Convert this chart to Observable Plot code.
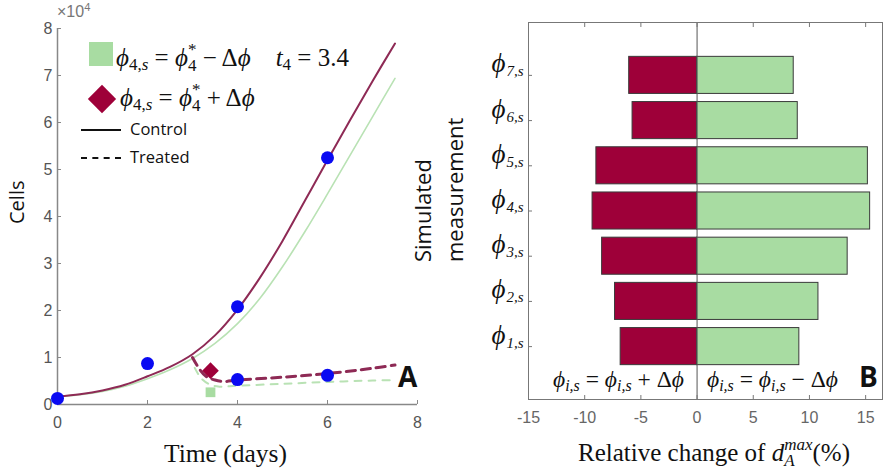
<!DOCTYPE html>
<html><head><meta charset="utf-8">
<script src="https://cdn.jsdelivr.net/npm/d3@7"></script>
<script src="https://cdn.jsdelivr.net/npm/@observablehq/plot@0.6"></script>
<style>
body{margin:0;background:#fff;}
#wrap{position:relative;width:883px;height:471px;overflow:hidden;background:#fff;}
.abs{position:absolute;white-space:nowrap;line-height:1;}
.math{font-family:"Liberation Serif",serif;font-size:25px;color:#111;}
.math i{font-style:italic;}
.sb{font-size:68%;position:relative;top:0.28em;}
.stk{display:inline-flex;flex-direction:column;font-size:68%;line-height:0.95;vertical-align:0.62em;}
.sans{font-family:"Open Sans",sans-serif;color:#111;}
.rot{transform:rotate(-90deg);transform-origin:0 0;}
svg{overflow:visible;}
</style></head><body><div id="wrap"></div>
<script>
// ---------- Panel A data (cells in units of 10^4) ----------
const timeGrid      = [0,0.5,1,1.5,2,2.5,3,3.5,4,4.5,5,5.5,6,6.5,7,7.5];
const controlPlus   = [0.17,0.22,0.30,0.42,0.60,0.80,1.07,1.47,2.02,2.70,3.48,4.34,5.20,6.05,6.88,7.68];
const controlMinus  = [0.17,0.21,0.28,0.39,0.55,0.74,0.98,1.30,1.72,2.26,2.93,3.68,4.48,5.30,6.12,6.94];
const treatedPlusT  = [3.0,3.15,3.3,3.5,3.7,4,5,6,7,7.5];
const treatedPlus   = [1.0,0.76,0.60,0.52,0.49,0.52,0.58,0.66,0.77,0.84];
const treatedMinusT = [3.05,3.2,3.4,3.6,4,5,6,7,7.5];
const treatedMinus  = [0.78,0.55,0.42,0.38,0.40,0.44,0.48,0.51,0.52];
const obsTime       = [0,2,4,6,4,6];
const obsCells      = [0.13,0.87,2.08,5.25,0.53,0.62];
const t4 = 3.4;
const markerPlus = 0.72, markerMinus = 0.26;
const xTicksA = [0,2,4,6,8];
const yTicksA = [0,1,2,3,4,5,6,7,8];

// ---------- Panel B data ----------
const measIndex   = [1,2,3,4,5,6,7];
const measLabels  = ["1,s","2,s","3,s","4,s","5,s","6,s","7,s"];
const plusChange  = [-6.8,-7.3,-8.45,-9.3,-8.96,-5.74,-6.04];
const minusChange = [9.1,10.8,13.4,15.4,15.2,8.96,8.6];
const xTicksB = [-15,-10,-5,0,5,10,15];

const RED = "#9e0039", GREEN = "#a8dca2";
const LRED = "#8e2a55", LGREEN = "#b9e2b4";

const line = (xs, ys) => xs.map((x,i)=>({x, y: ys[i]}));

const plotA = Plot.plot({
  width: 420, height: 471,
  marginLeft: 57, marginRight: 3, marginTop: 28, marginBottom: 67,
  x: {domain: [0,8]}, y: {domain: [0,8]},
  style: {fontFamily: "Liberation Sans, sans-serif", fontSize: "16px", background: "transparent"},
  marks: [
    Plot.ruleY([0], {stroke: "#888", strokeWidth: 1.5}),
    Plot.ruleX([0], {stroke: "#888", strokeWidth: 1.5}),
    Plot.axisX({ticks: xTicksA, tickSize: 0, tickPadding: 12, label: null, fill: "#555", fontSize: 16}),
    Plot.axisX({ticks: xTicksA, tickSize: -4, tickFormat: () => "", label: null, stroke: "#888"}),
    Plot.axisY({ticks: yTicksA, tickSize: 0, tickPadding: 5, label: null, fill: "#555", fontSize: 16}),
    Plot.axisY({ticks: yTicksA, tickSize: -4, tickFormat: () => "", label: null, stroke: "#888"}),
    Plot.line(line(timeGrid, controlMinus), {x:"x", y:"y", stroke: LGREEN, strokeWidth: 1.6, curve: "catmull-rom"}),
    Plot.line(line(timeGrid, controlPlus), {x:"x", y:"y", stroke: LRED, strokeWidth: 2, curve: "catmull-rom"}),
    Plot.line(line(treatedMinusT, treatedMinus), {x:"x", y:"y", stroke: LGREEN, strokeWidth: 2, strokeDasharray: "7,7", curve: "catmull-rom"}),
    Plot.line(line(treatedPlusT, treatedPlus), {x:"x", y:"y", stroke: LRED, strokeWidth: 3, strokeDasharray: "9,6", curve: "catmull-rom"}),
    Plot.dot([{x: t4, y: markerMinus}], {x:"x", y:"y", symbol: "square", r: 5.5, fill: GREEN}),
    Plot.dot([{x: t4, y: markerPlus}], {x:"x", y:"y", symbol: "diamond2", r: 7.5, fill: RED}),
    Plot.dot(line(obsTime, obsCells), {x:"x", y:"y", r: 6.5, fill: "#0a0af2"})
  ]
});

const barsPlus  = measIndex.map((m,i)=>({m, v: plusChange[i]}));
const barsMinus = measIndex.map((m,i)=>({m, v: minusChange[i]}));
const plotB = Plot.plot({
  width: 463, height: 471,
  marginLeft: 108, marginRight: 1, marginTop: 22, marginBottom: 72,
  x: {domain: [-15, 16.5]}, y: {domain: [-0.17, 8.17]},
  style: {fontFamily: "Liberation Sans, sans-serif", fontSize: "16px", background: "transparent"},
  marks: [
    Plot.rect(barsPlus,  {x1: 0, x2: "v", y1: d => d.m - 0.41, y2: d => d.m + 0.41, fill: RED, stroke: "#3a3a3a", strokeWidth: 1}),
    Plot.rect(barsMinus, {x1: 0, x2: "v", y1: d => d.m - 0.41, y2: d => d.m + 0.41, fill: GREEN, stroke: "#3a3a3a", strokeWidth: 1}),
    Plot.ruleX([0], {stroke: "#555", strokeWidth: 1}),
    Plot.frame({stroke: "#777", strokeWidth: 1}),
    Plot.axisX({ticks: xTicksB, tickSize: 0, tickPadding: 12, tickFormat: d => String(d), label: null, fill: "#666", fontSize: 16}),
    Plot.axisX({ticks: xTicksB, tickSize: -4, tickFormat: () => "", label: null, stroke: "#777"}),
    Plot.axisX({anchor: "top", ticks: xTicksB, tickSize: -4, tickFormat: () => "", label: null, stroke: "#777"}),
    Plot.axisY({ticks: measIndex, tickSize: -4, tickFormat: () => "", label: null, stroke: "#777"}),
    Plot.text(measIndex, {x: -15, y: d => d, text: () => "\u03D5", dx: -23, dy: -3, textAnchor: "end", lineAnchor: "bottom",
      fontFamily: "Liberation Serif, serif", fontStyle: "italic", fontSize: 27, fill: "#111"}),
    Plot.text(measIndex, {x: -15, y: d => d, text: (d,i) => measLabels[i], dx: -22, dy: 1, textAnchor: "start", lineAnchor: "bottom",
      fontFamily: "Liberation Serif, serif", fontStyle: "italic", fontSize: 15, fill: "#111"})
  ]
});

const wrap = document.getElementById("wrap");
plotA.style.position = "absolute"; plotA.style.left = "0px"; plotA.style.top = "0px";
plotB.style.position = "absolute"; plotB.style.left = "420px"; plotB.style.top = "0px";
wrap.appendChild(plotA); wrap.appendChild(plotB);

function add(html, cls, left, top, extra) {
  const d = document.createElement("div");
  d.className = "abs " + cls;
  d.style.left = left + "px"; d.style.top = top + "px";
  if (extra) Object.assign(d.style, extra);
  d.innerHTML = html;
  wrap.appendChild(d);
  return d;
}
const phi = "<i>\u03D5</i>";
const sub = s => `<span class="sb">${s}</span>`;
const stk = (sup, sb) => `<span class="stk"><span>${sup}</span><span>${sb}</span></span>`;
// multiplier
add('\u00D710<span style="font-size:70%;position:relative;top:-0.5em">4</span>', "", 57, 4,
  {fontFamily: "Liberation Sans, sans-serif", fontSize: "16px", color: "#777"});
// legend panel A
add("", "", 89, 42, {width: "24px", height: "24px", background: GREEN});
add(`${phi}${sub("4,<i>s</i>")} = ${phi}${stk("*", "4")} \u2212 \u0394${phi}&nbsp;&nbsp;&nbsp;&nbsp;<i>t</i>${sub("4")} = ${t4}`, "math", 116, 42);
add("", "", 92, 89, {width: "20px", height: "20px", background: RED, transform: "rotate(45deg)"});
add(`${phi}${sub("4,<i>s</i>")} = ${phi}${stk("*", "4")} + \u0394${phi}`, "math", 120, 82);
add("", "", 81, 129, {width: "40px", height: "0px", borderTop: "2.5px solid #111"});
add("", "", 81, 157, {width: "40px", height: "0px", borderTop: "2.5px dashed #111"});
add("Control", "sans", 130, 121, {fontSize: "16.5px"});
add("Treated", "sans", 130, 149, {fontSize: "16.5px"});
// axis titles
add("Cells", "sans rot", 7, 224, {fontSize: "20px"});
add("Time (days)", "", 164, 441, {fontFamily: "Liberation Serif, serif", fontSize: "25.5px", color: "#111"});
add("A", "sans", 398, 362, {fontSize: "28px", fontWeight: "700"});
// panel B titles
add("Simulated", "sans rot", 411, 262, {fontSize: "22px"});
add("measurement", "sans rot", 443, 262, {fontSize: "22px"});
add(`${phi}${sub("<i>i,s</i>")} = ${phi}${sub("<i>i,s</i>")} + \u0394${phi}`, "math", 553, 368, {fontSize: "23.5px"});
add(`${phi}${sub("<i>i,s</i>")} = ${phi}${sub("<i>i,s</i>")} \u2212 \u0394${phi}`, "math", 707, 368, {fontSize: "23.5px"});
add("B", "sans", 859, 362, {fontSize: "28px", fontWeight: "700"});
add(`Relative change of <i>d</i>${stk("<i>max</i>", "<i>A</i>")}(%)`, "math", 578, 437, {fontSize: "25px"});
</script></body></html>
